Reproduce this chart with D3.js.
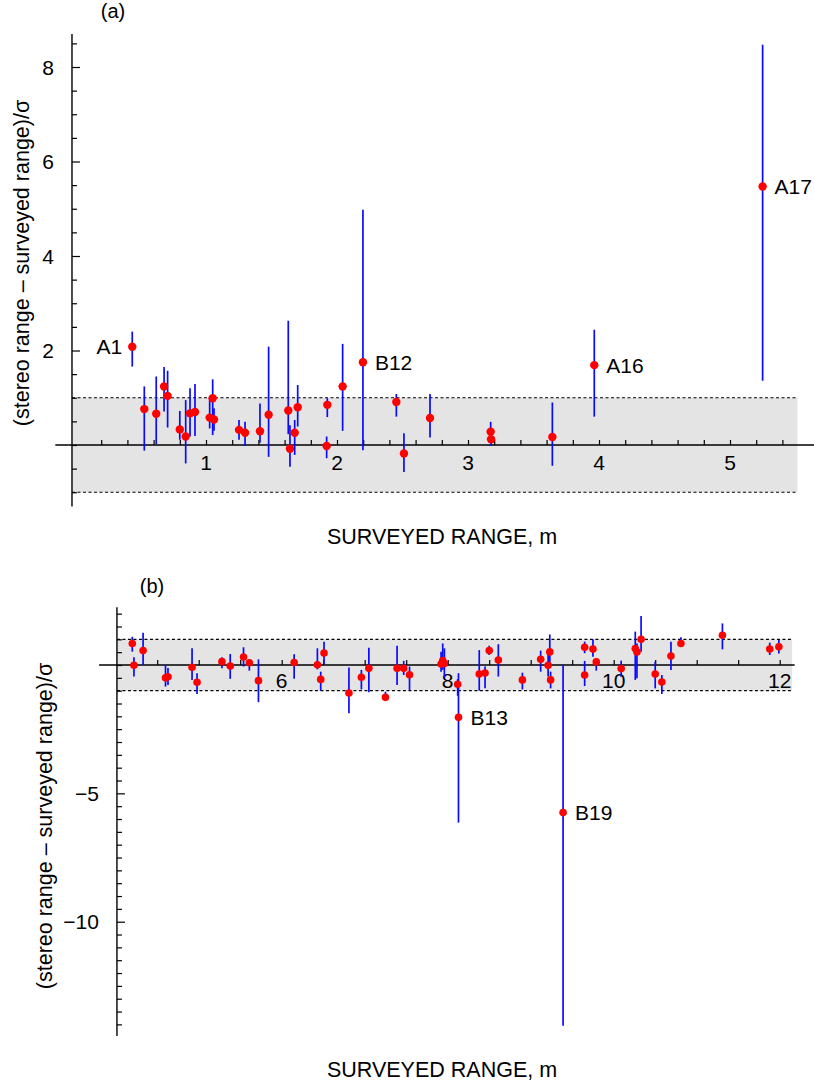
<!DOCTYPE html>
<html>
<head>
<meta charset="utf-8">
<script src="https://cdn.jsdelivr.net/npm/d3@7"></script>
<style>
  html, body { margin: 0; padding: 0; background: #fff; }
  svg { display: block; font-family: "Liberation Sans", Arial, Helvetica, sans-serif; }
</style>
</head>
<body>
<svg id="chart" width="814" height="1084"></svg>
<script>
// ---------- panel (a): short ranges ----------
const rangeA = [0.437, 0.529, 0.62, 0.68, 0.707, 0.80, 0.845, 0.878, 0.916, 1.028,
  1.051, 1.061, 1.252, 1.298, 1.412, 1.478, 1.628, 1.641, 1.677, 1.70,
  1.921, 1.926, 2.043, 2.198, 2.453, 2.511, 2.71, 3.173, 3.176, 3.644,
  3.964, 5.249];
const devA = [2.08, 0.76, 0.66, 1.24, 1.04, 0.33, 0.18, 0.67, 0.70, 0.58,
  0.99, 0.54, 0.32, 0.26, 0.29, 0.64, 0.73, -0.08, 0.26, 0.80,
  -0.02, 0.85, 1.24, 1.75, 0.91, -0.18, 0.57, 0.28, 0.12, 0.17,
  1.69, 5.47];
const lowA = [1.66, -0.12, 0.02, 0.71, 0.37, 0.11, -0.39, 0.18, 0.19, 0.35,
  0.21, 0.30, 0.11, -0.02, 0.05, -0.25, 0.23, -0.46, -0.21, 0.39,
  -0.28, 0.59, 0.30, -0.11, 0.60, -0.57, 0.16, 0.15, -0.02, -0.44,
  0.60, 1.36];
const highA = [2.40, 1.24, 1.45, 1.65, 1.57, 0.72, 0.95, 1.20, 1.29, 1.02,
  1.39, 0.78, 0.53, 0.49, 0.88, 2.08, 2.63, 0.42, 0.53, 1.27,
  0.18, 0.99, 2.14, 4.98, 1.08, 0.25, 1.08, 0.49, 0.30, 0.90,
  2.44, 8.47];
const namesA = ["A1", "", "", "", "", "", "", "", "", "",
  "", "", "", "", "", "", "", "", "", "",
  "", "", "", "B12", "", "", "", "", "", "",
  "A16", "A17"];

// ---------- panel (b): long ranges ----------
const rangeB = [4.20, 4.22, 4.33, 4.60, 4.63, 4.92, 4.98, 5.28, 5.38, 5.54,
  5.61, 5.72, 6.15, 6.43, 6.47, 6.51, 6.81, 6.96, 7.05, 7.25,
  7.39, 7.47, 7.54, 7.92, 7.94, 7.96, 8.12, 8.13, 8.38, 8.45,
  8.50, 8.61, 8.90, 9.12, 9.21, 9.23, 9.24, 9.39, 9.65, 9.65,
  9.75, 9.79, 10.09, 10.26, 10.28, 10.33, 10.50, 10.58, 10.69, 10.81,
  11.31, 11.88, 11.99];
const devB = [0.84, -0.01, 0.56, -0.50, -0.46, -0.09, -0.67, 0.13, -0.04, 0.31,
  0.09, -0.61, 0.10, 0.01, -0.56, 0.47, -1.09, -0.48, -0.13, -1.26,
  -0.13, -0.13, -0.38, 0.04, 0.17, 0.06, -0.75, -2.04, -0.35, -0.31,
  0.56, 0.19, -0.58, 0.22, -0.01, 0.51, -0.58, -5.75, 0.69, -0.39,
  0.62, 0.12, -0.14, 0.64, 0.51, 1.00, -0.35, -0.66, 0.35, 0.84,
  1.16, 0.62, 0.71];
const lowB = [0.52, -0.45, 0.00, -0.84, -0.78, -0.58, -1.13, -0.13, -0.54, -0.06,
  -0.22, -1.45, -0.54, -0.17, -1.00, 0.04, -1.88, -0.95, -1.06, -1.36,
  -0.78, -0.39, -0.97, -0.26, -0.19, -0.52, -1.20, -6.14, -1.00, -0.91,
  0.39, -0.45, -0.95, -0.26, -0.45, 0.00, -0.91, -14.05, 0.46, -0.82,
  0.32, -0.22, -0.46, -0.58, -0.52, 0.52, -0.91, -1.13, -0.19, 0.71,
  0.61, 0.39, 0.45];
const highB = [1.10, 0.30, 1.26, 0.00, -0.12, 0.65, -0.32, 0.30, 0.43, 0.69,
  0.22, 0.22, 0.42, 0.65, -0.26, 0.91, -0.10, -0.19, 0.67, -1.04,
  0.75, 0.16, -0.06, 0.52, 0.84, 0.65, -0.55, -0.32, 0.58, -0.06,
  0.75, 0.81, -0.30, 0.56, 0.40, 1.19, -0.26, 0.00, 0.91, 0.16,
  1.00, 0.26, 0.17, 1.30, 0.84, 1.91, 0.13, -0.39, 0.91, 1.08,
  1.62, 0.87, 0.97];
const namesB = rangeB.map(() => "");
namesB[27] = "B13";
namesB[37] = "B19";

// tick values
const xLabelsA = [1, 2, 3, 4, 5];
const yLabelsA = [2, 4, 6, 8];
const xLabelsB = [6, 8, 10, 12];
const yLabelsB = [-5, -10];

const xTitle = "SURVEYED RANGE, m";
const yTitle = "(stereo range \u2013 surveyed range)/\u03c3";

const svg = d3.select("#chart");
svg.append("rect").attr("width", 814).attr("height", 1084).attr("fill", "#fff");

function panel(cfg) {
  const g = svg.append("g");
  const x = cfg.x, y = cfg.y;
  const x0 = x(cfg.axisX);

  // one-sigma band
  g.append("rect")
    .attr("x", x0).attr("width", x(cfg.bandEnd) - x0)
    .attr("y", y(1)).attr("height", y(-1) - y(1))
    .attr("fill", "#e4e4e4");
  g.selectAll("line.band").data([1, -1]).join("line")
    .attr("x1", x0).attr("x2", x(cfg.bandEnd))
    .attr("y1", d => y(d)).attr("y2", d => y(d))
    .attr("stroke", "#000").attr("stroke-width", 1.1)
    .attr("stroke-dasharray", "3,2.5");

  // x axis along zero
  const xa = g.append("g").attr("transform", `translate(0,${y(0)})`)
    .call(d3.axisTop(x).tickValues(cfg.xTicks).tickSize(5).tickFormat(""));
  xa.select(".domain").remove();
  xa.selectAll("line").attr("stroke-width", 1.2);
  g.append("line")
    .attr("x1", x(cfg.zeroStart)).attr("x2", x(cfg.zeroEnd))
    .attr("y1", y(0)).attr("y2", y(0))
    .attr("stroke", "#000").attr("stroke-width", 1.4);
  g.selectAll("text.xl").data(cfg.xLabels).join("text")
    .attr("x", d => x(d)).attr("y", y(0) + cfg.xLabelDy)
    .attr("text-anchor", "middle").attr("font-size", 21).attr("fill", "#000")
    .text(d => d);

  // y axis
  const ya = g.append("g").attr("transform", `translate(${x0},0)`)
    .call(d3.axisRight(y).tickValues(cfg.yTicks)
      .tickSize(5).tickFormat(""));
  ya.select(".domain").remove();
  ya.selectAll("line").attr("stroke-width", 1.2)
    .attr("x2", d => cfg.yLabels.includes(d) ? 8 : 5);
  g.append("line")
    .attr("x1", x0).attr("x2", x0)
    .attr("y1", y(cfg.yTop)).attr("y2", y(cfg.yBottom))
    .attr("stroke", "#000").attr("stroke-width", 1.4);
  g.selectAll("text.yl").data(cfg.yLabels).join("text")
    .attr("x", x0 - 18).attr("y", d => y(d)).attr("dy", "0.36em")
    .attr("text-anchor", "end").attr("font-size", 21).attr("fill", "#000")
    .text(d => d < 0 ? "\u2212" + Math.abs(d) : d);

  // error bars and points
  const data = cfg.range.map((r, i) => ({
    r, v: cfg.dev[i], lo: cfg.low[i], hi: cfg.high[i], name: cfg.names[i]
  }));
  g.selectAll("line.err").data(data).join("line")
    .attr("x1", d => x(d.r)).attr("x2", d => x(d.r))
    .attr("y1", d => y(d.lo)).attr("y2", d => y(d.hi))
    .attr("stroke", "#0a0aff").attr("stroke-width", 1.7);
  g.selectAll("circle.pt").data(data).join("circle")
    .attr("cx", d => x(d.r)).attr("cy", d => y(d.v))
    .attr("r", cfg.dotR).attr("fill", "#ff0000");
  g.selectAll("text.name").data(data.filter(d => d.name)).join("text")
    .attr("x", d => d.name === "A1" ? x(d.r) - 10 : x(d.r) + 12)
    .attr("y", d => y(d.v)).attr("dy", "0.36em")
    .attr("text-anchor", d => d.name === "A1" ? "end" : "start")
    .attr("font-size", 21).attr("fill", "#000")
    .text(d => d.name);

  // titles
  g.append("text").attr("x", cfg.panelTag[0]).attr("y", cfg.panelTag[1])
    .attr("text-anchor", "middle").attr("font-size", 20).text(cfg.tag);
  g.append("text").attr("x", 442).attr("y", cfg.xTitleY)
    .attr("text-anchor", "middle").attr("font-size", 21.5).text(xTitle);
  g.append("text")
    .attr("transform", `translate(${cfg.yTitleX},${cfg.yTitleY}) rotate(-90)`)
    .attr("text-anchor", "middle").attr("font-size", 21.5).text(yTitle);
}

const halfSteps = (a, b) => d3.range(Math.round(a * 2), Math.round(b * 2) + 1).map(k => k / 2);

panel({
  tag: "(a)", panelTag: [113, 18],
  x: d3.scaleLinear().domain([0, 5]).range([75, 730]),
  y: d3.scaleLinear().domain([0, 8]).range([445, 67]),
  axisX: -0.023, bandEnd: 5.515, zeroStart: -0.15, zeroEnd: 5.65,
  yTop: 8.7, yBottom: -1.3,
  xTicks: d3.range(1, 28).map(k => k / 5),
  yTicks: halfSteps(-1, 8.5),
  xLabels: xLabelsA, yLabels: yLabelsA, xLabelDy: 25,
  range: rangeA, dev: devA, low: lowA, high: highA, names: namesA,
  dotR: 4.2, xTitleY: 544, yTitleX: 29, yTitleY: 263
});

panel({
  tag: "(b)", panelTag: [152, 593],
  x: d3.scaleLinear().domain([6, 12]).range([281.7, 779.7]),
  y: d3.scaleLinear().domain([0, -10]).range([665, 921.7]),
  axisX: 4.015, bandEnd: 12.15, zeroStart: 3.8, zeroEnd: 12.18,
  yTop: 2.25, yBottom: -14.45,
  xTicks: d3.range(9, 25).map(k => k / 2),
  yTicks: halfSteps(-14, 2),
  xLabels: xLabelsB, yLabels: yLabelsB, xLabelDy: 23,
  range: rangeB, dev: devB, low: lowB, high: highB, names: namesB,
  dotR: 3.8, xTitleY: 1077, yTitleX: 52, yTitleY: 826
});
</script>
</body>
</html>
